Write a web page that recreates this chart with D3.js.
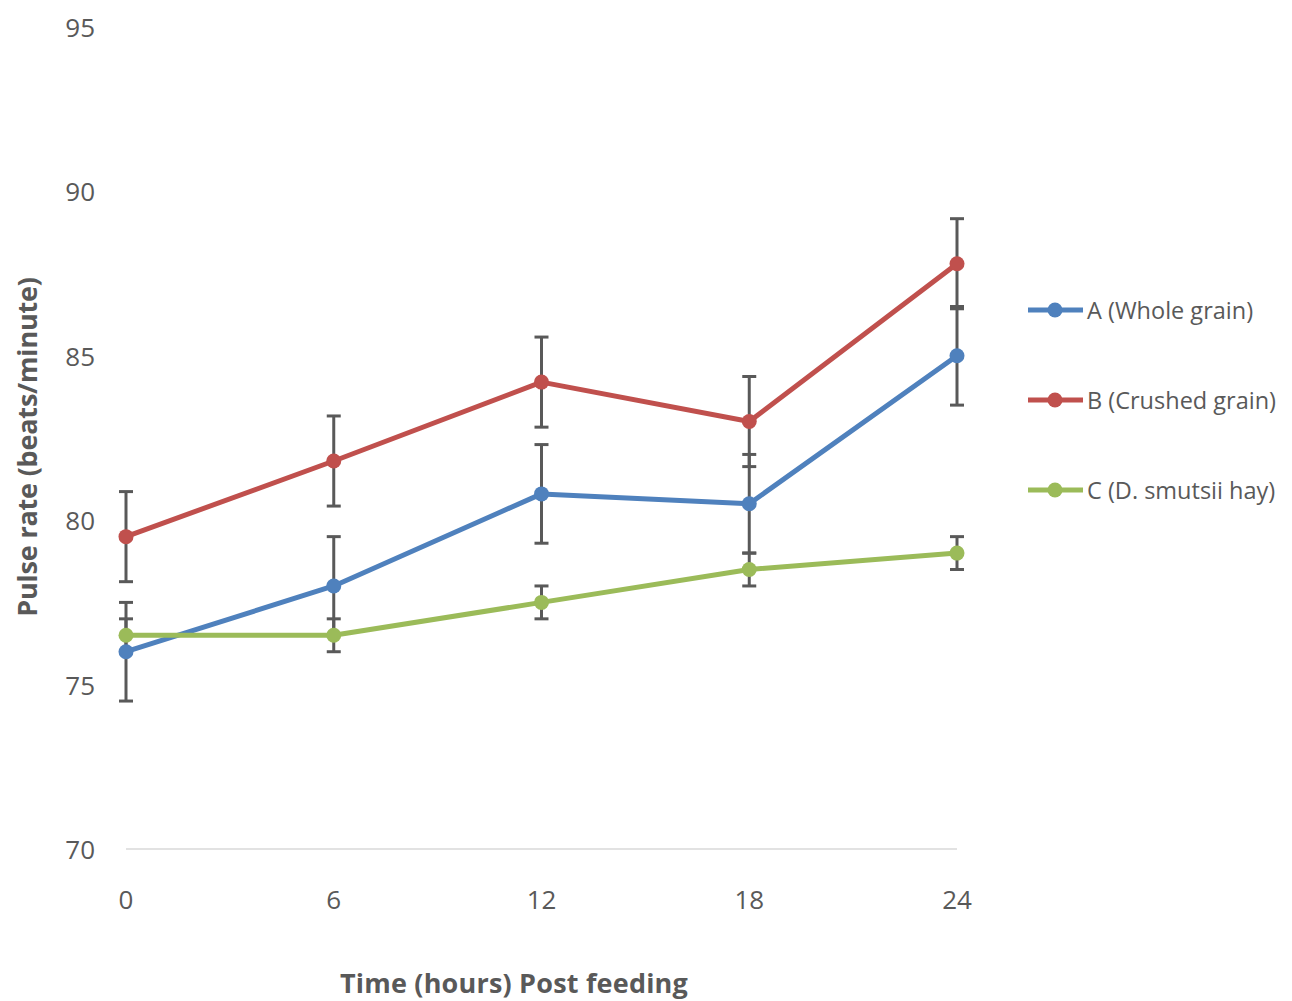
<!DOCTYPE html>
<meta charset="utf-8">
<script src="https://d3js.org/d3.v7.min.js"></script>
<style>
  body { margin: 0; background: #fff; }
  text { font-family: "Open Sans", "Liberation Sans", sans-serif; fill: #595959; }
</style>
<svg id="chart" width="1292" height="1001"></svg>
<script>

    // data
    var hours = [0, 6, 12, 18, 24]
    var seriesNames = ["A (Whole grain)", "B (Crushed grain)", "C (D. smutsii hay)"]
    var seriesColors = ["#4F81BD", "#C0504D", "#9BBB59"]
    var wholeGrain = [76.0, 78.0, 80.8, 80.5, 85.0]
    var wholeGrainErr = [1.5, 1.5, 1.5, 1.5, 1.5]
    var crushedGrain = [79.5, 81.8, 84.2, 83.0, 87.8]
    var crushedGrainErr = [1.37, 1.37, 1.37, 1.37, 1.37]
    var hay = [76.5, 76.5, 77.5, 78.5, 79.0]
    var hayErr = [0.5, 0.5, 0.5, 0.5, 0.5]
    var yTicks = [70, 75, 80, 85, 90, 95]

    var series = [
      { name: seriesNames[0], color: seriesColors[0], values: wholeGrain, err: wholeGrainErr },
      { name: seriesNames[1], color: seriesColors[1], values: crushedGrain, err: crushedGrainErr },
      { name: seriesNames[2], color: seriesColors[2], values: hay, err: hayErr }
    ]

    var svg = d3.select("#chart")

    // scales
    var x = d3.scalePoint()
      .domain(hours)
      .range([126, 957])

    var y = d3.scaleLinear()
      .domain([70, 95])
      .range([849, 27])

    // y tick labels (no axis line in the original)
    svg.append("g")
      .selectAll("text")
      .data(yTicks)
      .enter()
      .append("text")
        .attr("x", 95)
        .attr("y", function(d){ return y(d) })
        .attr("text-anchor", "end")
        .attr("dominant-baseline", "central")
        .style("font-size", "26px")
        .text(function(d){ return d })

    // baseline at 70
    svg.append("line")
      .attr("x1", x(hours[0]))
      .attr("x2", x(hours[hours.length - 1]))
      .attr("y1", y(70))
      .attr("y2", y(70))
      .attr("stroke", "#d9d9d9")
      .attr("stroke-width", 1.5)

    // x tick labels
    svg.append("g")
      .selectAll("text")
      .data(hours)
      .enter()
      .append("text")
        .attr("x", function(d){ return x(d) })
        .attr("y", 899)
        .attr("text-anchor", "middle")
        .attr("dominant-baseline", "central")
        .style("font-size", "26px")
        .text(function(d){ return d })

    // axis titles
    svg.append("text")
      .attr("x", 514)
      .attr("y", 982)
      .attr("text-anchor", "middle")
      .attr("dominant-baseline", "central")
      .style("font-size", "27px")
      .style("font-weight", "bold")
      .style("letter-spacing", "0.2px")
      .text("Time (hours) Post feeding")

    svg.append("text")
      .attr("transform", "translate(26,447) rotate(-90)")
      .attr("text-anchor", "middle")
      .attr("dominant-baseline", "central")
      .style("font-size", "27px")
      .style("font-weight", "bold")
      .style("letter-spacing", "-0.2px")
      .text("Pulse rate (beats/minute)")

    // error bars
    var errG = svg.append("g")
    series.forEach(function(s){
      s.values.forEach(function(v, i){
        var cx = x(hours[i])
        var lo = y(v - s.err[i]), hi = y(v + s.err[i])
        errG.append("line")
          .attr("x1", cx).attr("x2", cx)
          .attr("y1", lo).attr("y2", hi)
          .attr("stroke", "#595959").attr("stroke-width", 3)
        ;[lo, hi].forEach(function(yy){
          errG.append("line")
            .attr("x1", cx - 7).attr("x2", cx + 7)
            .attr("y1", yy).attr("y2", yy)
            .attr("stroke", "#595959").attr("stroke-width", 3)
        })
      })
    })

    // lines + markers
    var line = d3.line()
      .x(function(d, i){ return x(hours[i]) })
      .y(function(d){ return y(d) })

    series.forEach(function(s){
      svg.append("path")
        .datum(s.values)
        .attr("d", line)
        .attr("fill", "none")
        .attr("stroke", s.color)
        .attr("stroke-width", 5)
        .attr("stroke-linejoin", "round")

      svg.append("g")
        .selectAll("circle")
        .data(s.values)
        .enter()
        .append("circle")
          .attr("cx", function(d, i){ return x(hours[i]) })
          .attr("cy", function(d){ return y(d) })
          .attr("r", 7.5)
          .attr("fill", s.color)
    })

    // legend
    var legend = svg.append("g")
      .selectAll("g")
      .data(series)
      .enter()
      .append("g")
        .attr("transform", function(d, i){ return "translate(0," + (310 + i * 90) + ")" })

    legend.append("line")
      .attr("x1", 1028).attr("x2", 1083)
      .attr("y1", 0).attr("y2", 0)
      .attr("stroke", function(d){ return d.color })
      .attr("stroke-width", 5)

    legend.append("circle")
      .attr("cx", 1055).attr("cy", 0).attr("r", 7.5)
      .attr("fill", function(d){ return d.color })

    legend.append("text")
      .attr("x", 1087)
      .attr("y", 0)
      .attr("dominant-baseline", "central")
      .style("font-size", "23.5px")
      .text(function(d){ return d.name })

</script>
